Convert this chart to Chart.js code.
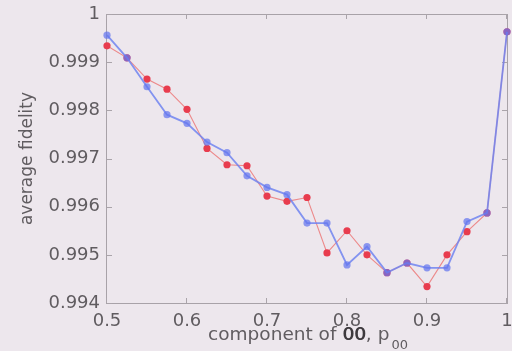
<!DOCTYPE html>
<html>
<head>
<meta charset="utf-8">
<script src="https://cdn.jsdelivr.net/npm/chart.js@4/dist/chart.umd.min.js"></script>
<style>
  html, body { margin: 0; padding: 0; background: #ede7ed; }
  #wrap { width: 512px; height: 351px; }
</style>
</head>
<body>
<div id="wrap"><canvas id="c" width="512" height="351"></canvas></div>
<script>
// Component of |00> (x) and the average fidelity of two runs
const pValues = [0.5, 0.525, 0.55, 0.575, 0.6, 0.625, 0.65, 0.675, 0.7, 0.725, 0.75,
                 0.775, 0.8, 0.825, 0.85, 0.875, 0.9, 0.925, 0.95, 0.975, 1.0];
const fidelityBlue = [0.99956, 0.99909, 0.99849, 0.99791, 0.99773, 0.99734, 0.99712, 0.99664,
                      0.99640, 0.99625, 0.99566, 0.99566, 0.99479, 0.99517, 0.99463, 0.99483,
                      0.99473, 0.99473, 0.99569, 0.99587, 0.99963];
const fidelityRed = [0.99934, 0.99909, 0.99865, 0.99844, 0.99802, 0.99721, 0.99687, 0.99685,
                     0.99622, 0.99611, 0.99619, 0.99504, 0.99550, 0.99500, 0.99463, 0.99483,
                     0.99434, 0.99500, 0.99548, 0.99587, 0.99963];
const xTickValues = [0.5, 0.6, 0.7, 0.8, 0.9, 1.0];
const xTickLabels = ['0.5', '0.6', '0.7', '0.8', '0.9', '1'];
const yTickValues = [0.994, 0.995, 0.996, 0.997, 0.998, 0.999, 1.0];
const yTickLabels = ['0.994', '0.995', '0.996', '0.997', '0.998', '0.999', '1'];
const xTitle = 'component of ';
const xTitleMark = '00';
const xTitleTail = ', p';
const xTitleSub = '00';
const yTitle = 'average fidelity';

const FONT = "'DejaVu Sans', sans-serif";
const TEXT = '#605c60';

const toPoints = ys => pValues.map((x, i) => ({ x, y: ys[i] }));

// Background, boxed axes with inward ticks on all four sides, and axis titles
const frame = {
  id: 'frame',
  beforeDraw(chart) {
    const ctx = chart.ctx;
    ctx.save();
    ctx.fillStyle = '#ede7ed';
    ctx.fillRect(0, 0, chart.width, chart.height);
    ctx.restore();
  },
  beforeDatasetsDraw(chart) {
    const { ctx, chartArea: a, scales } = chart;
    ctx.save();
    ctx.lineWidth = 1;
    ctx.strokeStyle = '#a8a2a8';
    ctx.strokeRect(a.left - 0.5, a.top + 0.5, a.right - a.left + 1, a.bottom - a.top);
    ctx.strokeStyle = '#aaa4aa';
    const len = 5;
    ctx.beginPath();
    xTickValues.forEach(v => {
      const px = Math.round(scales.x.getPixelForValue(v)) - 0.5;
      ctx.moveTo(px, a.bottom); ctx.lineTo(px, a.bottom - len);
      ctx.moveTo(px, a.top); ctx.lineTo(px, a.top + len);
    });
    yTickValues.forEach(v => {
      const py = Math.round(scales.y.getPixelForValue(v)) + 0.5;
      ctx.moveTo(a.left, py); ctx.lineTo(a.left + len, py);
      ctx.moveTo(a.right, py); ctx.lineTo(a.right - len, py);
    });
    ctx.stroke();
    ctx.restore();
  },
  afterDraw(chart) {
    const { ctx, chartArea: a } = chart;
    ctx.save();
    ctx.fillStyle = TEXT;
    // y title
    ctx.font = `17px ${FONT}`;
    ctx.textAlign = 'center';
    ctx.textBaseline = 'middle';
    ctx.translate(28, (a.top + a.bottom) / 2);
    ctx.rotate(-Math.PI / 2);
    ctx.fillText(yTitle, 0, 0);
    ctx.setTransform(1, 0, 0, 1, 0, 0);
    // x title: "component of 00, p" with subscript "00"
    const main = `18.5px ${FONT}`;
    const sub = `13px ${FONT}`;
    ctx.font = main;
    const w1 = ctx.measureText(xTitle).width;
    const w2 = ctx.measureText(xTitleMark).width;
    const w3 = ctx.measureText(xTitleTail).width;
    ctx.font = sub;
    const w4 = ctx.measureText(xTitleSub).width;
    const cx = (a.left + a.right) / 2 + 1;
    const x0 = cx - (w1 + w2 + w3 + w4 + 2) / 2;
    ctx.textAlign = 'left';
    ctx.textBaseline = 'alphabetic';
    ctx.font = main;
    ctx.fillText(xTitle, x0, 340);
    ctx.fillStyle = '#3e3a3e';
    ctx.fillText(xTitleMark, x0 + w1, 340);
    ctx.fillText(xTitleMark, x0 + w1 + 0.6, 340);
    ctx.fillStyle = TEXT;
    ctx.fillText(xTitleTail, x0 + w1 + w2, 340);
    ctx.font = sub;
    ctx.fillText(xTitleSub, x0 + w1 + w2 + w3 + 2, 349);
    ctx.restore();
  }
};

new Chart(document.getElementById('c'), {
  type: 'line',
  data: {
    datasets: [
      {
        data: toPoints(fidelityBlue),
        borderColor: 'rgba(112, 132, 240, 0.85)',
        backgroundColor: 'rgba(100, 118, 238, 0.72)',
        pointBorderColor: 'rgba(100, 118, 238, 0.0)',
        borderWidth: 1.8,
        pointRadius: 3.6,
        pointBorderWidth: 0,
        tension: 0,
        clip: false,
        order: 0
      },
      {
        data: toPoints(fidelityRed),
        borderColor: 'rgba(236, 120, 120, 0.85)',
        backgroundColor: '#e83c4e',
        pointBorderColor: 'rgba(232, 60, 78, 0)',
        borderWidth: 1.1,
        pointRadius: 3.6,
        pointBorderWidth: 0,
        tension: 0,
        clip: false,
        order: 1
      }
    ]
  },
  options: {
    responsive: false,
    animation: false,
    devicePixelRatio: 1,
    layout: { padding: { top: 14, right: 5, left: 0, bottom: 0 } },
    plugins: { legend: { display: false }, tooltip: { enabled: false } },
    scales: {
      x: {
        type: 'linear',
        min: 0.5,
        max: 1.0,
        grid: { display: false, drawTicks: false },
        border: { display: false },
        afterFit(s) { s.height = 48; s.paddingLeft = 0; s.paddingRight = 0; },
        afterBuildTicks(s) { s.ticks = xTickValues.map(v => ({ value: v })); },
        ticks: {
          padding: 8,
          color: TEXT,
          font: { family: FONT, size: 18 },
          maxRotation: 0,
          autoSkip: false,
          callback: (v) => xTickLabels[xTickValues.findIndex(t => Math.abs(t - v) < 1e-9)]
        }
      },
      y: {
        type: 'linear',
        min: 0.994,
        max: 1.0,
        grid: { display: false, drawTicks: false },
        border: { display: false },
        afterFit(s) { s.width = 107; s.paddingTop = 0; s.paddingBottom = 0; },
        afterBuildTicks(s) { s.ticks = yTickValues.map(v => ({ value: v })); },
        ticks: {
          padding: 7,
          color: TEXT,
          font: { family: FONT, size: 18 },
          autoSkip: false,
          callback: (v) => yTickLabels[yTickValues.findIndex(t => Math.abs(t - v) < 1e-9)]
        }
      }
    }
  },
  plugins: [frame]
});
</script>
</body>
</html>
